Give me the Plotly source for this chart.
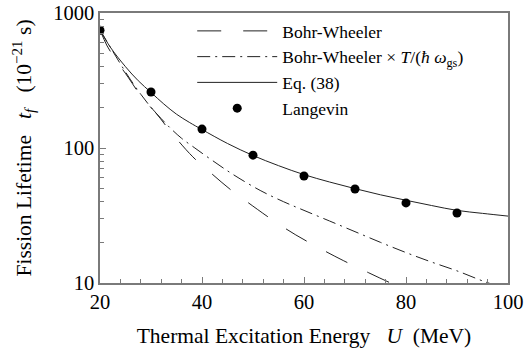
import plotly.graph_objects as go

# Thermal excitation energy U (MeV) and fission lifetimes t_f (1e-21 s)
u_langevin = [20, 30, 40, 50, 60, 70, 80, 90]
t_langevin = [745, 260, 138, 88.5, 62, 49.7, 39.2, 33.0]

u_eq38 = [20, 22, 25, 27.5, 30, 32.5, 35, 37.5, 40, 45, 50, 55, 60, 65, 70, 75, 80, 85, 90, 95, 100]
t_eq38 = [750, 560, 400, 315, 258, 212, 178, 155, 137, 108, 88, 74, 63.5, 56, 50, 45, 41, 37.5, 34.5, 32.8, 31.3]

u_bw = [20, 21.4, 23.3, 25.5, 28.4, 30.8, 34, 38.2, 41.6, 45.5, 49, 54, 58.4, 63.3, 67.8, 72.7, 77, 80]
t_bw = [750, 570, 440, 335, 232, 185, 130, 86, 66, 49.5, 39.5, 29, 22.7, 17.9, 14.6, 11.9, 10, 9]

u_bwt = [20, 22, 24, 26, 28, 30, 32, 34, 36, 38.6, 42, 46, 51.4, 56, 60, 65, 70, 75, 80, 85, 90, 95.5, 98]
t_bwt = [750, 560, 420, 320, 250, 200, 165, 138, 118, 100, 81, 64, 48.5, 40, 34.5, 28.8, 24, 20, 16.8, 14.3, 12.3, 10.2, 9.5]

x_ticks = [20, 40, 60, 80, 100]
y_ticks = [10, 100, 1000]
y_minor = [20, 30, 40, 50, 60, 70, 80, 90, 200, 300, 400, 500, 600, 700, 800, 900]

FONT = "Liberation Serif"
AXIS = "#7a7a7a"
LINE = "#222222"
GAP = "\u00a0\u00a0\u00a0"

fig = go.Figure()
fig.add_trace(go.Scatter(
    x=u_bw, y=t_bw, mode="lines", name="Bohr-Wheeler",
    line=dict(color=LINE, width=1, dash="24px,22px", shape="spline"),
))
fig.add_trace(go.Scatter(
    x=u_bwt, y=t_bwt, mode="lines",
    name="Bohr-Wheeler × <i>T</i>/(<i>ħ ω</i><sub>gs</sub>)",
    line=dict(color=LINE, width=1, dash="13px,5px,2px,5px", shape="spline"),
))
fig.add_trace(go.Scatter(
    x=u_eq38, y=t_eq38, mode="lines", name="Eq. (38)",
    line=dict(color=LINE, width=1, shape="spline"),
))
fig.add_trace(go.Scatter(
    x=u_langevin, y=t_langevin, mode="markers", name="Langevin",
    marker=dict(color="black", size=9),
))

fig.update_layout(
    width=532, height=351,
    margin=dict(l=100, r=24, t=13, b=68, autoexpand=False),
    paper_bgcolor="white", plot_bgcolor="white",
    font=dict(family=FONT, size=20, color="black"),
    showlegend=True,
    legend=dict(
        x=0.226, y=1.0, xanchor="left", yanchor="top",
        bgcolor="rgba(0,0,0,0)", borderwidth=0,
        font=dict(family=FONT, size=17.5),
        itemwidth=80, tracegroupgap=0,
    ),
)
fig.update_xaxes(
    range=[20, 100], tickvals=x_ticks, ticks="inside", ticklen=6,
    tickcolor=AXIS, showline=True, linecolor=AXIS, linewidth=1.5,
    mirror=True, showgrid=False, zeroline=False, automargin=False,
    tickfont=dict(family=FONT, size=20.5),
    minor=dict(dtick=4, tick0=20, ticks="inside", ticklen=4, tickcolor=AXIS, showgrid=False),
    title=dict(text="Thermal Excitation Energy" + GAP + "<i>U</i>" + "\u00a0\u00a0" + "(MeV)",
               standoff=16, font=dict(family=FONT, size=21.5)),
)
fig.update_yaxes(
    type="log", range=[1, 3], tickvals=y_ticks, ticktext=[str(v) for v in y_ticks],
    ticks="inside", ticklen=6, tickcolor=AXIS,
    showline=True, linecolor=AXIS, linewidth=1.5, mirror=True,
    showgrid=False, zeroline=False, automargin=False,
    tickfont=dict(family=FONT, size=20.5),
    minor=dict(tickvals=y_minor, ticks="inside", ticklen=4, tickcolor=AXIS, showgrid=False),
    title=dict(text="Fission Lifetime" + GAP + "<i>t<sub>f</sub></i>" + GAP + "(10<sup>−21</sup> s)",
               standoff=16, font=dict(family=FONT, size=21.5)),
)

fig.write_html("out.html")
